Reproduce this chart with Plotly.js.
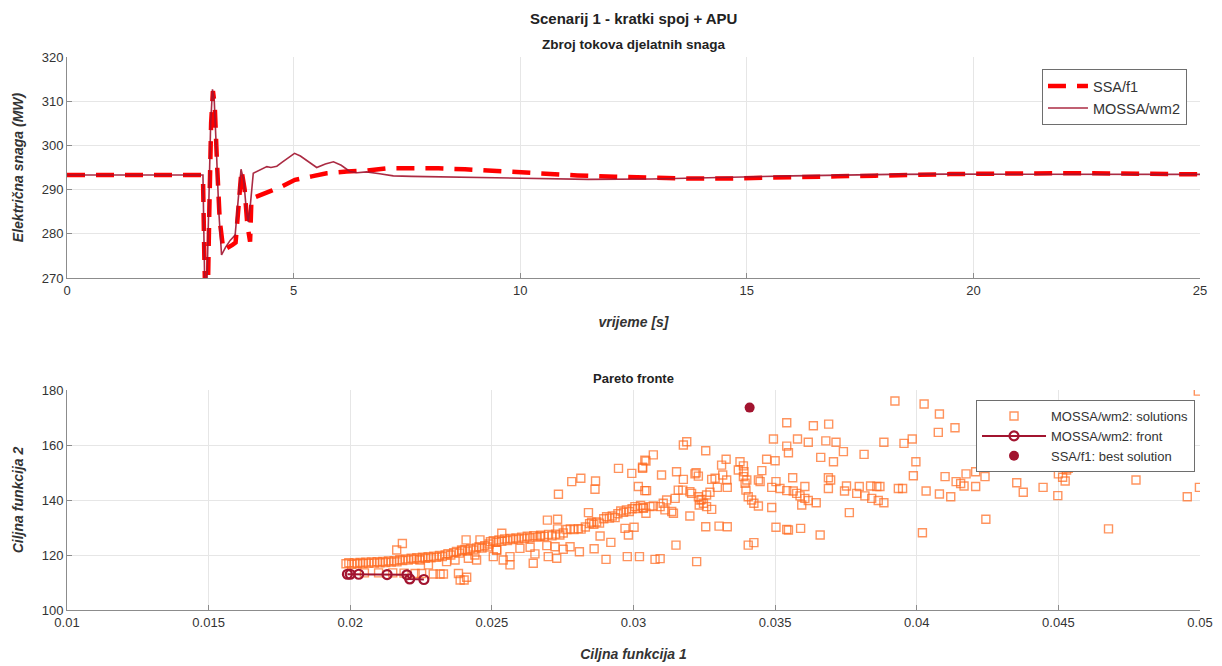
<!DOCTYPE html>
<html><head><meta charset="utf-8">
<script src="https://cdn.plot.ly/plotly-3.0.1.min.js"></script>
<style>html,body{margin:0;padding:0;background:#fff}#c{width:1222px;height:666px}</style>
</head><body><div id="c"></div>
<script>
// ---- top plot: time series ----
const tSSA = [0,3.0,3.03,3.07,3.1,3.14,3.18,3.22,3.26,3.31,3.37,3.45,3.55,3.65,3.72,3.78,3.85,3.92,3.98,4.04,4.07,4.15,4.3,4.5,4.7,5.03,5.4,5.73,6.17,6.6,7.05,7.6,8.2,8.78,9.61,10.44,11.26,12.09,12.92,13.75,14.57,15.4,16.17,17.0,17.83,18.66,19.48,20.37,21.1,22,23,24,25];
const pSSA = [293.3,293.3,275,258,262,285,305,312.3,309,296,283,276.3,276.8,277.5,278,286,294.4,290,282,278.2,288,288.3,288.8,289.7,290.5,292.2,293.0,293.7,294.1,294.3,294.8,294.9,294.8,294.6,294.1,293.7,293.2,292.9,292.6,292.5,292.5,292.6,292.85,293.0,293.15,293.4,293.5,293.6,293.7,293.7,293.65,293.55,293.45];
const tMOSSA = [0,3.0,3.02,3.05,3.08,3.12,3.17,3.21,3.25,3.3,3.35,3.41,3.5,3.6,3.71,3.78,3.84,3.9,3.96,4.0,4.05,4.11,4.2,4.3,4.41,4.5,4.63,4.75,4.9,5.02,5.15,5.3,5.51,5.7,5.88,6.05,6.24,6.4,6.61,6.9,7.2,7.6,8.2,9.3,10.4,11.5,12.9,13.8,14.9,16.0,17.0,18.2,19.5,21,23,25];
const pMOSSA = [293.3,293.3,280,262,265,285,305,312.7,310,298,285,275.2,277,278.5,279.7,288,294.6,292,285,282.7,287,293.7,294.2,294.6,295.2,295.0,295.3,296.2,297.3,298.2,297.6,296.5,295.0,295.8,296.3,295.5,294.1,293.8,294.0,293.6,293.1,293.0,292.9,292.55,292.4,292.3,292.4,292.55,292.85,293.1,293.3,293.45,293.5,293.5,293.5,293.45];

// ---- bottom plot: Pareto ----
const solX = [
0.01985,0.01995,0.02005,0.02015,0.02025,0.02035,0.02045,0.02055,0.02065,0.02075,0.02085,0.02095,0.02105,0.02115,0.02125,0.02135,0.02145,0.02155,0.02165,0.02175,0.02185,0.02195,0.02205,0.02215,0.02225,0.02235,0.02245,0.02255,0.02265,0.02275,0.02285,0.02295,0.02305,0.02315,0.02325,0.02335,0.02345,0.02355,0.02365,0.02375,0.02385,0.02395,0.02405,0.02415,0.02425,0.02435,0.02445,0.02455,0.02465,0.02475,0.02485,0.02490,
0.02184,0.02164,0.02050,0.02100,0.02150,0.02190,0.02229,0.02252,0.02293,0.02317,0.02329,0.02382,0.02388,0.02411,0.02402,0.02276,0.02246,0.02340,0.02370,0.02417,0.02446,0.02440,0.02517,0.02458,0.02409,0.02393,
0.02495,0.02505,0.02515,0.02525,0.02535,0.02545,0.02555,0.02565,0.02575,0.02585,0.02595,0.02605,0.02615,0.02625,0.02635,0.02648,0.02660,0.02672,0.02685,0.02700,0.02712,0.02725,0.02740,0.02752,0.02765,0.02777,0.02790,0.02805,0.02815,0.02830,0.02845,0.02852,0.02860,0.02870,0.02880,0.02895,0.02905,0.02915,0.02925,0.02935,0.02945,0.02955,0.02965,0.02975,0.02985,0.02995,0.03005,0.03015,0.03025,0.03035,
0.02535,0.02505,0.02540,0.02564,0.02564,0.02517,0.02599,0.02646,0.02652,0.02699,0.02729,0.02723,0.02752,0.02776,0.02809,0.02861,0.02903,0.02920,0.02882,0.02970,0.03002,0.02982,0.02978,0.03021,0.02694,0.02635,0.02670,0.02696,0.02732,0.02732,0.02841,0.02735,0.02782,0.02814,0.02866,0.02864,0.02947,0.02994,0.03032,0.03040,0.03017,0.03040,
0.03541,0.03494,0.03541,0.03547,0.03176,0.03188,0.03255,0.03070,0.03044,0.03032,0.03099,0.03152,0.03176,0.03217,0.03229,0.03221,0.03311,0.03327,0.03376,0.03388,0.03390,0.03370,0.03388,0.03400,0.03394,0.03397,0.03405,0.03417,0.03425,0.03441,0.03453,0.03470,0.03500,0.03441,0.03447,0.03503,0.03517,0.03488,0.03541,0.03276,0.03288,0.03296,0.03331,0.03329,0.03315,0.03270,0.03258,0.03205,0.03199,0.03174,0.03158,0.03147,0.03229,0.03241,0.03247,0.03232,0.03258,0.03276,0.03235,0.03117,0.03105,0.03094,0.03070,0.03058,0.03044,0.03035,0.03141,0.03135,0.03111,0.03199,0.03046,0.03488,0.03503,0.03541,0.03255,0.03302,0.03331,0.03150,0.03405,0.03425,0.03076,0.03094,0.03223,
0.03635,0.03689,0.03579,0.03617,0.03679,0.03715,0.03741,0.03661,0.03706,0.03814,0.03884,0.03923,0.03562,0.03605,0.03688,0.03696,0.03688,0.03752,0.03745,0.03797,0.03788,0.03817,0.03837,0.03859,0.03841,0.03864,0.03884,0.03935,0.03564,0.03576,0.03588,0.03605,0.03594,0.03617,0.03645,0.03762,0.03659,0.03590,0.03547,
0.04026,0.04080,0.04076,0.04135,0.03955,0.03984,0.03997,0.03988,0.03950,0.04033,0.04080,0.04120,0.04100,0.04139,0.04155,0.04167,0.04174,0.04208,0.04241,0.04208,0.04244,0.04020,0.04353,0.04376,0.04446,0.04498,0.04500,0.04515,0.04524,0.04529,0.04535,0.04677,0.04774,0.04955,0.04998,0.04994,0.04959,0.03870];
const solY = [
116.8,117.2,116.6,117.1,116.8,117.3,116.9,117.4,117.0,117.5,117.1,117.6,117.2,117.7,117.3,117.8,117.4,117.9,117.5,118.3,118.0,118.6,118.2,118.8,118.4,119.0,118.6,119.2,118.8,119.4,119.0,119.6,119.2,119.8,119.4,120.0,120.5,120.0,120.8,121.3,120.7,121.5,122.0,121.4,122.3,121.8,122.6,123.0,122.5,123.4,122.9,124.0,
124.2,121.8,113.5,113.5,113.5,113.4,113.3,113.3,113.1,113.1,113.1,113.3,110.9,111.9,110.9,116.4,118.2,117.6,118.2,118.8,118.2,120.0,121.8,125.5,125.5,121.8,
124.8,125.2,124.6,125.5,125.0,125.8,125.3,126.0,125.6,126.2,125.8,126.5,126.0,126.8,126.3,127.0,126.5,127.2,126.8,127.5,127.0,127.6,127.3,128.0,129.3,129.5,129.3,129.6,129.4,130.2,131.4,131.9,131.2,132.0,131.6,133.2,133.9,133.4,134.2,133.6,135.0,136.0,135.5,136.4,135.8,136.8,137.6,136.9,138.0,137.3,
127.9,119.4,118.2,119.4,116.4,121.8,122.4,117.0,120.4,119.4,118.8,123.0,122.1,123.0,121.2,122.3,118.4,124.6,126.9,129.7,130.1,127.3,119.4,119.4,123.4,122.8,126.7,132.7,133.0,129.5,135.4,142.1,146.7,147.9,146.9,143.9,151.5,149.7,151.9,154.5,144.9,143.4,
168.1,162.2,159.6,157.2,160.0,161.2,157.9,156.4,154.2,151.5,149.1,150.3,147.5,149.5,148.7,149.9,152.7,154.8,153.9,152.4,150.3,150.9,148.5,147.3,146.1,143.6,141.2,140.0,138.8,137.8,150.7,154.8,154.3,147.3,146.7,146.7,144.2,144.6,143.4,147.5,147.9,144.6,144.6,147.3,149.1,142.8,141.8,142.4,143.0,143.6,143.6,140.6,141.2,140.2,138.8,138.2,137.6,136.6,140.0,140.0,138.8,137.6,137.8,137.6,135.2,137.0,135.2,135.8,136.4,134.2,143.4,137.3,130.1,129.3,130.3,130.5,130.3,123.6,123.6,124.5,118.4,118.7,117.6,
167.0,167.6,162.2,161.0,161.5,161.0,157.6,155.5,153.9,156.6,161.0,176.0,148.1,144.9,148.1,147.3,144.2,145.1,143.3,144.9,142.4,141.5,145.1,144.9,140.6,139.8,139.0,144.2,143.3,142.4,141.5,140.6,138.2,139.8,139.0,135.4,127.3,129.7,129.1,
174.9,171.3,164.6,166.3,160.6,162.2,153.9,148.8,144.2,143.3,142.2,141.2,148.5,146.7,146.0,145.1,149.5,150.3,148.5,144.9,133.0,128.1,146.3,142.8,144.6,141.6,149.5,148.3,146.9,150.9,151.5,129.5,147.3,141.2,144.6,179.6,164.2,144.9];
const frontX = [0.0199,0.0200,0.0203,0.0213,0.0220,0.0221,0.0226];
const frontY = [113.0,113.0,113.0,112.9,112.8,111.3,111.1];
const bestX = [0.0341];
const bestY = [173.6];

const FONT = 'Liberation Sans, Arial, Helvetica, sans-serif';
const DARK = '#a2142f';

const traces = [
  {x:tSSA, y:pSSA, type:'scatter', mode:'lines', name:'SSA/f1', xaxis:'x', yaxis:'y', legend:'legend',
   line:{color:'#ff0000', width:4.5, dash:'18px,11px'}},
  {x:tMOSSA, y:pMOSSA, type:'scatter', mode:'lines', name:'MOSSA/wm2', xaxis:'x', yaxis:'y', legend:'legend',
   line:{color:DARK, width:1.6}, opacity:0.9},
  {x:solX, y:solY, type:'scatter', mode:'markers', name:'MOSSA/wm2: solutions', xaxis:'x2', yaxis:'y2', legend:'legend2',
   marker:{symbol:'square-open', size:8, color:'rgba(255,105,30,0.72)', line:{width:1.4}}},
  {x:frontX, y:frontY, type:'scatter', mode:'lines+markers', name:'MOSSA/wm2: front', xaxis:'x2', yaxis:'y2', legend:'legend2',
   line:{color:DARK, width:2}, marker:{symbol:'circle-open', size:9, color:DARK, line:{width:2.2}}},
  {x:bestX, y:bestY, type:'scatter', mode:'markers', name:'SSA/f1: best solution', xaxis:'x2', yaxis:'y2', legend:'legend2',
   marker:{symbol:'circle', size:10, color:DARK}}
];

const axBase = {
  showgrid:true, gridcolor:'#e6e6e6', gridwidth:1, zeroline:false,
  showline:true, linecolor:'#8c8c8c', linewidth:1, mirror:false,
  ticks:'inside', ticklen:5, tickcolor:'#8c8c8c',
  tickfont:{family:FONT, size:13, color:'#333'}
};
const titleFont = {family:FONT, size:14, color:'#333', weight:'bold', style:'italic'};

const layout = {
  width:1222, height:666,
  paper_bgcolor:'#fff', plot_bgcolor:'#fff',
  margin:{l:67, r:22, t:57, b:56},
  font:{family:FONT, color:'#333'},
  xaxis: Object.assign({}, axBase, {domain:[0,1], anchor:'y', range:[0,25], tickvals:[0,5,10,15,20,25],
    title:{text:'vrijeme [s]', font:titleFont, standoff:20}}),
  yaxis: Object.assign({}, axBase, {domain:[0.6004,1], anchor:'x', range:[270,320], tickvals:[270,280,290,300,310,320],
    title:{text:'Električna snaga (MW)', font:titleFont, standoff:14}}),
  xaxis2: Object.assign({}, axBase, {domain:[0,1], anchor:'y2', range:[0.01,0.05], tickvals:[0.01,0.015,0.02,0.025,0.03,0.035,0.04,0.045,0.05],
    ticktext:['0.01','0.015','0.02','0.025','0.03','0.035','0.04','0.045','0.05'],
    title:{text:'Ciljna funkcija 1', font:titleFont, standoff:20}}),
  yaxis2: Object.assign({}, axBase, {domain:[0,0.3978], anchor:'x2', range:[100,180], tickvals:[100,120,140,160,180],
    title:{text:'Ciljna funkcija 2', font:titleFont, standoff:14}}),
  showlegend:true,
  legend:{x:0.9885, xanchor:'right', y:0.978, yanchor:'top', bgcolor:'#fff', bordercolor:'#6e6e6e', borderwidth:1,
    font:{family:FONT, size:14.5, color:'#333'}, tracegroupgap:0, itemwidth:40},
  legend2:{x:0.9956, xanchor:'right', y:0.3797, yanchor:'top', bgcolor:'#fff', bordercolor:'#6e6e6e', borderwidth:1,
    font:{family:FONT, size:13, color:'#333'}, tracegroupgap:0, itemwidth:64},
  annotations:[
    {text:'<b>Scenarij 1 - kratki spoj + APU</b>', xref:'paper', yref:'paper', x:0.5, y:1, yshift:39, showarrow:false,
      font:{family:FONT, size:15, color:'#222'}, xanchor:'center', yanchor:'middle'},
    {text:'<b>Zbroj tokova djelatnih snaga</b>', xref:'paper', yref:'paper', x:0.5, y:1, yshift:13, showarrow:false,
      font:{family:FONT, size:13.5, color:'#222'}, xanchor:'center', yanchor:'middle'},
    {text:'<b>Pareto fronte</b>', xref:'paper', yref:'paper', x:0.5, y:0.3978, yshift:12, showarrow:false,
      font:{family:FONT, size:13, color:'#222'}, xanchor:'center', yanchor:'middle'}
  ]
};

Plotly.newPlot('c', traces, layout, {displayModeBar:false, staticPlot:true});
</script>
</body></html>
